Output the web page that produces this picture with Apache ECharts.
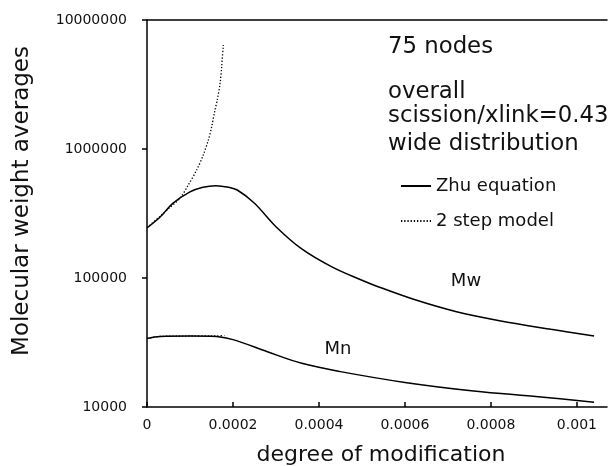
<!DOCTYPE html>
<html>
<head>
<meta charset="utf-8">
<script src="https://cdn.jsdelivr.net/npm/echarts@6/dist/echarts.min.js"></script>
<style>
  html, body { margin: 0; padding: 0; background: #fff; }
  #chart { width: 610px; height: 466px; }
</style>
</head>
<body>
<div id="chart"></div>
<script>
// Molecular weight averages versus degree of modification (log scale)

// Mw, Zhu equation
const mwZhuDegree = [0, 0.00003, 0.00006, 0.0001, 0.00013, 0.00016, 0.00019, 0.00021, 0.00025, 0.0003,
                     0.00036, 0.00043, 0.0005, 0.00053, 0.00062, 0.00072, 0.00082, 0.00094, 0.00104];
const mwZhuValue  = [245000, 296000, 379000, 465000, 505000, 520000, 505000, 481000, 380000, 250000,
                     168000, 122000, 96000, 87500, 68400, 54800, 46700, 40000, 35500];

// Mn, Zhu equation
const mnZhuDegree = [0, 0.00003, 0.0001, 0.00015, 0.0002, 0.00028, 0.00036, 0.00045, 0.0006, 0.00076, 0.00091, 0.00104];
const mnZhuValue  = [34000, 35200, 35500, 35400, 33300, 26800, 21800, 18800, 15500, 13300, 12000, 10900];

// Mw, 2 step model
const mw2StepDegree = [0, 0.00003, 0.00005, 0.0000767, 0.000096, 0.0001156, 0.0001309, 0.0001426,
                       0.0001505, 0.000158, 0.0001635, 0.00017, 0.0001737, 0.0001774];
const mw2StepValue  = [245000, 300000, 345000, 415000, 526000, 687000, 898000, 1170000,
                       1490000, 2000000, 2400000, 3230000, 4350000, 6400000];

// Mn, 2 step model
const mn2StepDegree = [0, 0.00003, 0.0001, 0.00015, 0.00018];
const mn2StepValue  = [34000, 35200, 35500, 35600, 35700];

// Axis ticks
const xTicks = [0, 0.0002, 0.0004, 0.0006, 0.0008, 0.001];

// Annotation texts
const noteLines = ['75 nodes', 'overall', 'scission/xlink=0.43', 'wide distribution'];
const curveLabels = ['Mw', 'Mn'];
const seriesNames = ['Zhu equation', '2 step model'];

const zip = (xs, ys) => xs.map((x, i) => [x, ys[i]]);

const FONT = '"DejaVu Sans", "Liberation Sans", Arial, sans-serif';
const INK = '#111';

const chart = echarts.init(document.getElementById('chart'), null, { renderer: 'canvas' });

const solid = { color: '#000', width: 1.5, type: 'solid' };
const dotted = { color: '#000', width: 1.3, type: [1.3, 1.9] };

function lineSeries(name, degree, value, style, smooth, z) {
  return {
    name, type: 'line', symbol: 'none', showSymbol: false, smooth,
    lineStyle: style, itemStyle: { color: '#000' },
    data: zip(degree, value), z
  };
}

chart.setOption({
  backgroundColor: '#fff',
  animation: false,
  grid: { left: 147, right: 3, top: 20, bottom: 59, containLabel: false, outerBoundsMode: 'none' },
  legend: {
    show: true,
    orient: 'vertical',
    left: 395,
    top: 172,
    itemWidth: 30,
    itemHeight: 14,
    itemGap: 17,
    data: seriesNames,
    // legend keys show the line style only, no marker
    itemStyle: { opacity: 0 },
    textStyle: { fontFamily: FONT, fontSize: 18, color: INK },
    selectedMode: false
  },
  xAxis: [{
    type: 'value',
    min: 0,
    max: 0.00107,
    interval: 0.0002,
    position: 'bottom',
    axisLine: { show: true, lineStyle: { color: '#000', width: 1.5 } },
    axisTick: { show: true, inside: true, length: 5, customValues: xTicks, lineStyle: { color: '#000', width: 1.5 } },
    axisLabel: {
      customValues: xTicks,
      margin: 11,
      fontFamily: FONT, fontSize: 14, color: INK,
      formatter: v => (v === 0 ? '0' : String(+v.toFixed(4)))
    },
    splitLine: { show: false }
  }, {
    type: 'value',
    min: 0,
    max: 0.00107,
    position: 'top',
    axisLine: { show: true, onZero: false, lineStyle: { color: '#000', width: 1.5 } },
    axisTick: { show: false },
    axisLabel: { show: false },
    splitLine: { show: false }
  }],
  yAxis: {
    type: 'log',
    logBase: 10,
    min: 10000,
    max: 10000000,
    axisLine: { show: true, lineStyle: { color: '#000', width: 1.5 } },
    axisTick: { show: true, inside: false, length: 5, lineStyle: { color: '#000', width: 1.5 } },
    minorTick: { show: false },
    axisLabel: {
      margin: 20,
      fontFamily: FONT, fontSize: 14, color: INK,
      formatter: v => String(Math.round(v))
    },
    splitLine: { show: false }
  },
  series: [
    lineSeries(seriesNames[0], mwZhuDegree, mwZhuValue, solid, 0.35, 3),
    lineSeries(seriesNames[0], mnZhuDegree, mnZhuValue, solid, 0.35, 3),
    lineSeries(seriesNames[1], mw2StepDegree, mw2StepValue, dotted, 0.3, 2),
    lineSeries(seriesNames[1], mn2StepDegree, mn2StepValue, dotted, 0.3, 2)
  ],
  graphic: [
    { type: 'text', left: 388, top: 36, style: { text: noteLines[0], font: '22.8px ' + FONT, fill: INK } },
    { type: 'text', left: 388, top: 81, style: { text: noteLines[1], font: '22.8px ' + FONT, fill: INK } },
    { type: 'text', left: 388, top: 105, style: { text: noteLines[2], font: '22.8px ' + FONT, fill: INK } },
    { type: 'text', left: 388, top: 133, style: { text: noteLines[3], font: '22.8px ' + FONT, fill: INK } },
    { type: 'text', x: 466, y: 281, style: { text: curveLabels[0], font: '18px ' + FONT, fill: INK, align: 'center', verticalAlign: 'middle' } },
    { type: 'text', x: 338, y: 349, style: { text: curveLabels[1], font: '18px ' + FONT, fill: INK, align: 'center', verticalAlign: 'middle' } },
    { type: 'text', x: 381, y: 455, style: { text: 'degree of modification', font: '22px ' + FONT, fill: INK, align: 'center', verticalAlign: 'middle' } },
    { type: 'text', x: 22, y: 201, rotation: Math.PI / 2, style: { text: 'Molecular weight averages', font: '23px ' + FONT, fill: INK, align: 'center', verticalAlign: 'middle' } }
  ]
});
</script>
</body>
</html>
